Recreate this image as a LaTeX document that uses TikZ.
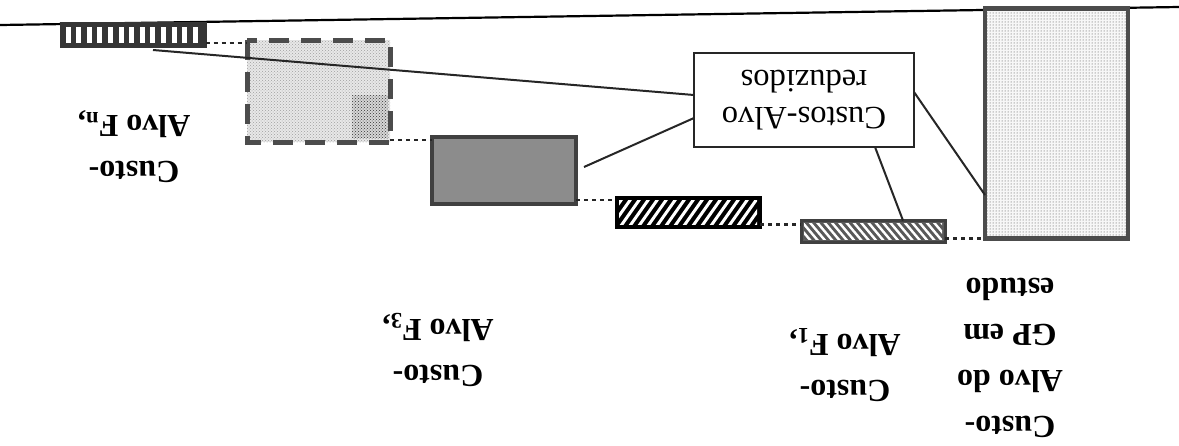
\documentclass[tikz,border=0pt]{standalone}
\usepackage{fontspec}
\setmainfont{Liberation Serif}
\usetikzlibrary{patterns,calc}
\definecolor{dk}{HTML}{353535}
\definecolor{mg}{HTML}{8C8C8C}
\begin{document}
\begin{tikzpicture}[x=1pt,y=-1pt,
  rbox/.style={rectangle, inner sep=0pt, outer sep=0pt},
  dotline/.style={line width=2.8pt, dash pattern=on 4pt off 4pt, black!85},
  conn/.style={line width=2pt, black!85},
  lab/.style={rotate=180, align=center, inner sep=0pt, font=\fontsize{32}{46}\selectfont\bfseries},
  boxtxt/.style={rotate=180, align=center, draw=black!85, line width=1.6pt, fill=white,
     minimum width=220pt, minimum height=94pt, inner sep=0pt, font=\fontsize{32.5}{37}\selectfont}]
\useasboundingbox (0,0) rectangle (1179,445);

% top line
\coordinate (L) at (0,25);
\coordinate (R) at (1179,7);
\draw[line width=2.2pt] (L) -- (R);

% top-left barred rectangle
\node[rbox, draw=dk, fill=dk, line width=2pt, minimum width=145pt, minimum height=24pt] (tl) at (133,34.5) {};
\foreach \i in {0,...,12} {
  \fill[white] ({65.5+\i*10.6},27) rectangle ++(5,16);
}

% dashed rectangle F_n
\node[rbox, fill=gray!18, minimum width=143pt, minimum height=102pt] (fn) at (318.5,91) {};
\fill[pattern=crosshatch dots, pattern color=gray!75] (fn.north west) rectangle (fn.south east);
\fill[gray!32] (352,95) rectangle (388,138);
\fill[pattern=crosshatch dots, pattern color=black!80] (352,95) rectangle (388,138);
\draw[line width=5pt, draw=black!70, dash pattern=on 20pt off 12pt] (fn.north west) rectangle (fn.south east);

% dark gray rectangle F3
\node[rbox, draw=black!75, fill=mg, line width=4pt, minimum width=144pt, minimum height=67pt] (f3) at (504,170.5) {};

% black hatched rectangle
\node[rbox, fill=black, minimum width=144pt, minimum height=30pt] (h3) at (688,212.5) {};
\begin{scope}
  \clip ($(h3.north west)+(3,3)$) rectangle ($(h3.south east)+(-3,-3)$);
  \foreach \i in {0,...,20} {
    \draw[white, line width=3pt] ({600+\i*9},230) -- ++(24,-34);
  }
\end{scope}
\draw[line width=3pt] (h3.north west) rectangle (h3.south east);

% F1 hatched rectangle
\node[rbox, fill=black!65, minimum width=144pt, minimum height=22pt] (f1) at (873,231.5) {};
\begin{scope}
  \clip ($(f1.north west)+(3,3)$) rectangle ($(f1.south east)+(-3,-3)$);
  \foreach \i in {0,...,24} {
    \draw[white, line width=2.4pt] ({785+\i*7.3},219) -- ++(22,26);
  }
\end{scope}
\draw[line width=3pt, draw=black!75] (f1.north west) rectangle (f1.south east);

% big dotted rectangle
\node[rbox, fill=gray!6, minimum width=143pt, minimum height=230pt] (gp) at (1056.5,123.5) {};
\fill[pattern=dots, pattern color=black!75] (gp.north west) rectangle (gp.south east);
\draw[line width=4.5pt, draw=black!70] (gp.north west) rectangle (gp.south east);

% dotted connectors
\draw[dotline] ($(tl.south east)+(0,-3.5)$) coordinate (d1) -- (d1 -| fn.west);
\draw[dotline] ($(fn.south east)+(0,-2)$) coordinate (d2) -- (d2 -| f3.west);
\draw[dotline] ($(f3.south east)+(0,-4)$) coordinate (d3) -- (d3 -| h3.west);
\draw[dotline] ($(h3.south east)+(0,-3)$) coordinate (d4) -- (d4 -| f1.west);
\draw[dotline] ($(f1.south east)+(0,-4)$) coordinate (d5) -- (d5 -| gp.west);

% callout box
\node[boxtxt] (box) at (804,100) {Custos-Alvo\\reduzidos};
\coordinate (c1) at (153,50);
\draw[conn] (c1) -- ($(box.center)+(-110,-5)$);
\draw[conn] ($(box.center)+(-110,18)$) -- ($(f3.center)+(80,-3.5)$);
\draw[conn] ($(box.center)+(71,47)$) -- ($(f1.center)+(30,-11)$);
\draw[conn] ($(box.center)+(110,-8)$) -- ($(gp.center)+(-71.5,71.5)$);

% labels
\node[lab] (ln) at (134,147) {Custo-\\Alvo F\textsubscript{n},};
\node[lab] (l3) at (438,350) {Custo-\\Alvo F\textsubscript{3},};
\node[lab] (l1) at (845,365) {Custo-\\Alvo F\textsubscript{1},};
\node[lab] (lg) at (1010,358) {Custo-\\Alvo do\\GP em\\estudo};
\end{tikzpicture}
\end{document}
